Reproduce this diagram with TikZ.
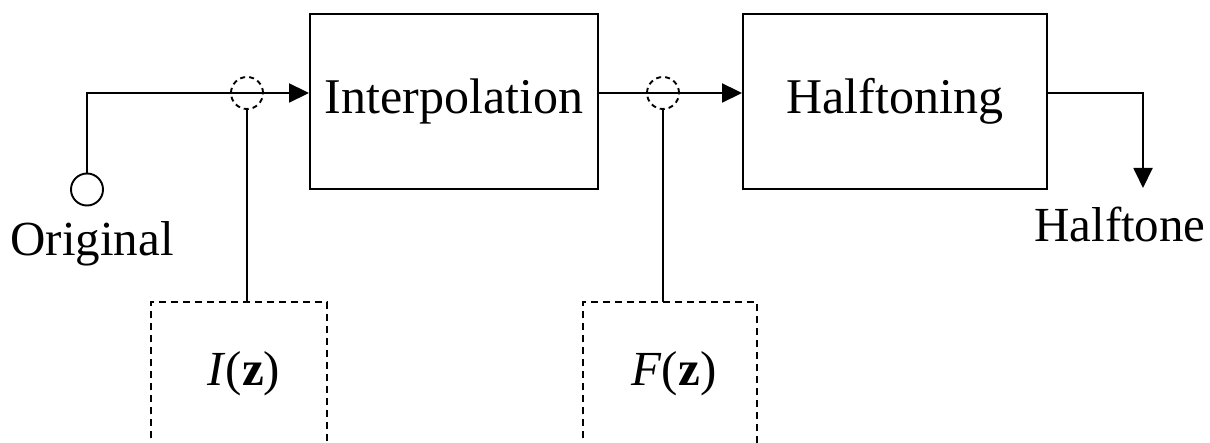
\documentclass[tikz,border=0pt]{standalone}
\usepackage{fontspec}
\setmainfont{Liberation Serif}
\usetikzlibrary{arrows.meta}
\begin{document}
\begin{tikzpicture}[x=1pt,y=-1pt,line width=1.9pt,
  blk/.style={draw,rectangle,inner sep=0pt,font=\fontsize{50}{54}\selectfont},
  lbl/.style={inner sep=0pt,font=\fontsize{49}{54}\selectfont},
  arr/.style={-{Triangle[length=20pt,width=19pt]}},
  tap/.style={draw,circle,minimum size=32pt,inner sep=0pt,dash pattern=on 5pt off 4pt},
  src/.style={draw,circle,minimum size=32pt,inner sep=0pt},
  dbox/.style={dash pattern=on 7pt off 5pt}]
\useasboundingbox (0,0) rectangle (1210,443);
\clip (0,0) rectangle (1210,443);
\node[blk,minimum width=288pt,minimum height=175pt] (interp) at (454,101.5) {Interpolation};
\node[blk,minimum width=304pt,minimum height=175pt] (half) at (895,101.5) {Halftoning};
\node[src] (orig) at (87,189.5) {};
\node[lbl,anchor=base] (origl) at (92,256) {Original};
\node[lbl,anchor=base] (outl) at (1120,242) {Halftone};
\node[tap] (c1) at (247,93) {};
\node[tap] (c2) at (663,93) {};
\coordinate (i1) at (247,302);
\coordinate (i2) at (663,302);
\coordinate (out) at (1143,188);
\node[lbl] (iz) at (244,374) {\textit{I}(\textbf{z})};
\node[lbl] (fz) at (674,374) {\textit{F}(\textbf{z})};
% dashed boxes
\draw[dbox] (151,450) -- (151,302) -- (i1) -- (327,302) -- (327,450);
\draw[dbox] (583,450) -- (583,302) -- (i2) -- (757,302) -- (757,450);
% connectors
\draw[arr] (orig.north) |- (c1.center) -- (c1 -| interp.west);
\draw[arr] (c2 -| interp.east) -- (c2 -| half.west);
\draw[arr] (c2 -| half.east) -| (out);
\draw (i1) -- (c1.south);
\draw (i2) -- (c2.south);
\end{tikzpicture}
\end{document}
